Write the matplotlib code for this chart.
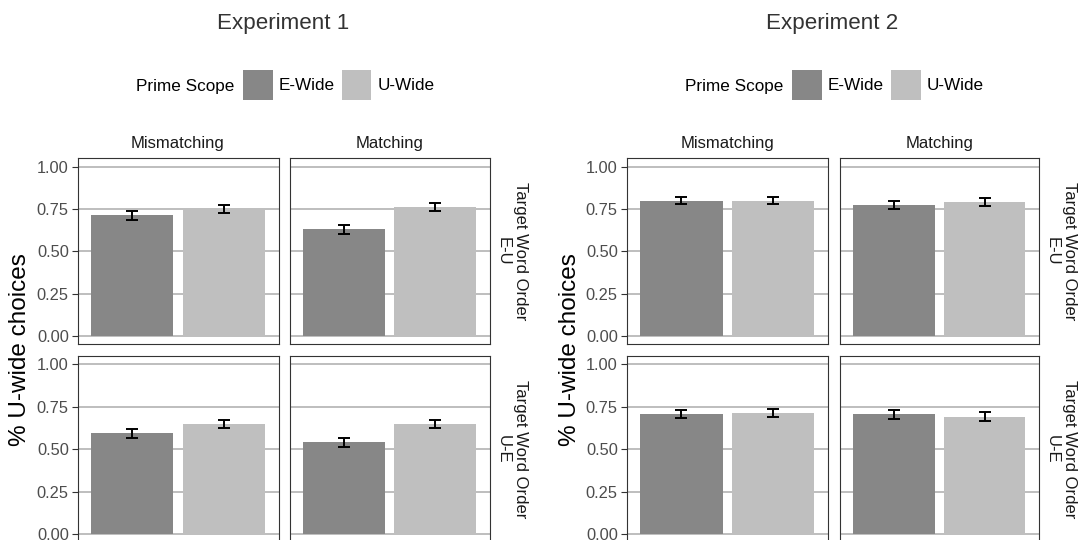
import numpy as np
import matplotlib.pyplot as plt
from matplotlib.patches import Patch

plt.rcParams['font.family'] = ['Liberation Sans', 'DejaVu Sans']

# datos (proporcion de elecciones U-wide)
escopos = ['E-Wide', 'U-Wide']
primes = ['Mismatching', 'Matching']
ordenes = ['E-U', 'U-E']
experimentos = ['Experiment 1', 'Experiment 2']

exp1_eu_mismatching = [0.713, 0.748]
exp1_eu_matching = [0.630, 0.760]
exp1_ue_mismatching = [0.595, 0.650]
exp1_ue_matching = [0.541, 0.650]
exp2_eu_mismatching = [0.800, 0.800]
exp2_eu_matching = [0.773, 0.790]
exp2_ue_mismatching = [0.708, 0.715]
exp2_ue_matching = [0.705, 0.692]

# errores (mitad del intervalo)
exp1_eu_mismatching_se = [0.025, 0.024]
exp1_eu_matching_se = [0.026, 0.024]
exp1_ue_mismatching_se = [0.026, 0.025]
exp1_ue_matching_se = [0.027, 0.025]
exp2_eu_mismatching_se = [0.022, 0.022]
exp2_eu_matching_se = [0.024, 0.024]
exp2_ue_mismatching_se = [0.026, 0.025]
exp2_ue_matching_se = [0.026, 0.025]

medias = [
    [[exp1_eu_mismatching, exp1_eu_matching], [exp1_ue_mismatching, exp1_ue_matching]],
    [[exp2_eu_mismatching, exp2_eu_matching], [exp2_ue_mismatching, exp2_ue_matching]],
]
errores = [
    [[exp1_eu_mismatching_se, exp1_eu_matching_se], [exp1_ue_mismatching_se, exp1_ue_matching_se]],
    [[exp2_eu_mismatching_se, exp2_eu_matching_se], [exp2_ue_mismatching_se, exp2_ue_matching_se]],
]

colores = ['#878787', '#BFBFBF']

W, H = 1078, 540
fig = plt.figure(figsize=(W / 100, H / 100), dpi=100)

# posiciones de paneles en pixeles
columnas = [[(77.5, 278.5), (289.5, 490)], [(626.5, 828), (839.5, 1039)]]
filas = [(158.3, 344.3), (356, 542.5)]
x_offset = [0, 549.5]


def caja(x0, x1, ytop, ybot):
    return [x0 / W, 1 - ybot / H, (x1 - x0) / W, (ybot - ytop) / H]


for e in range(2):
    for f in range(2):
        for c in range(2):
            (x0, x1), (ytop, ybot) = columnas[e][c], filas[f]
            ax = fig.add_axes(caja(x0, x1, ytop, ybot))
            vals = medias[e][f][c]
            se = errores[e][f][c]
            xs = np.arange(1, len(escopos) + 1)
            ax.bar(xs, vals, width=0.9, color=colores, zorder=2)
            ax.errorbar(xs, vals, yerr=se, fmt='none', ecolor='black',
                        elinewidth=1.4, capsize=4.0, capthick=1.4, zorder=3)
            ax.set_xlim(0.4, 2.6)
            ax.set_ylim(-0.05, 1.05)
            ax.set_yticks([0, 0.25, 0.5, 0.75, 1.0])
            ax.set_xticks([])
            ax.yaxis.grid(True, color='#BEBEBE', linewidth=1.4, zorder=0)
            ax.set_axisbelow(True)
            for s in ax.spines.values():
                s.set_color('#333333')
                s.set_linewidth(0.8)
            if c == 0:
                ax.set_yticklabels(['0.00', '0.25', '0.50', '0.75', '1.00'])
                ax.tick_params(axis='y', length=4.5, width=0.8, color='#333333',
                               labelsize=11.8, labelcolor='#4D4D4D', pad=1.8)
            else:
                ax.tick_params(axis='y', length=0, labelleft=False)
            if f == 0:
                ax.text(0.5, 1.082, primes[c], transform=ax.transAxes,
                        ha='center', va='center', fontsize=12, color='#1A1A1A')
            if c == 1:
                ax.text(1.11, 0.5, 'Target Word Order\n' + ordenes[f],
                        transform=ax.transAxes, rotation=-90, ha='center',
                        va='center', fontsize=12, color='#1A1A1A',
                        linespacing=1.17)

    dx = x_offset[e]
    fig.text((283 + dx) / W, 1 - 29.5 / H, experimentos[e], ha='center',
             va='baseline', fontsize=16.1, color='#333333')
    fig.text((20.5 + dx) / W, 1 - 350 / H, '% U-wide choices', rotation=90,
             ha='center', va='center', fontsize=17.5, color='black')
    fig.text((135.8 + dx) / W, 1 - 90.7 / H, 'Prime Scope', ha='left',
             va='baseline', fontsize=12.3, color='black')
    handles = [Patch(facecolor=colores[i], edgecolor='none') for i in range(2)]
    fig.legend(handles, escopos, ncol=2, loc='center left',
               bbox_to_anchor=((242.7 + dx) / W, 1 - 85 / H),
               frameon=False, fontsize=12.3, borderpad=0, borderaxespad=0,
               handlelength=1.75, handleheight=2.32, handletextpad=0.35,
               columnspacing=0.4)

plt.savefig('out.png', dpi=100)
